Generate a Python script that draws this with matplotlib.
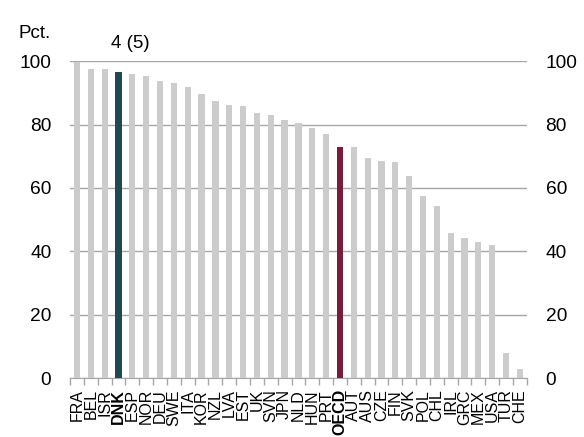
import matplotlib
matplotlib.use("Agg")
import matplotlib.pyplot as plt
from matplotlib.ticker import FixedLocator

plt.rcParams['font.family'] = ['Liberation Sans', 'DejaVu Sans']

countries = ["FRA", "BEL", "ISR", "DNK", "ESP", "NOR", "DEU", "SWE", "ITA", "KOR",
             "NZL", "LVA", "EST", "UK", "SVN", "JPN", "NLD", "HUN", "PRT", "OECD",
             "AUT", "AUS", "CZE", "FIN", "SVK", "POL", "CHL", "IRL", "GRC", "MEX",
             "USA", "TUR", "CHE"]
values = [99.6, 97.6, 97.6, 96.5, 95.9, 95.3, 93.8, 93.2, 91.9, 89.6,
          87.3, 86.1, 86.0, 83.8, 82.9, 81.4, 80.6, 78.8, 76.9, 72.9,
          72.9, 69.5, 68.5, 68.2, 63.9, 57.4, 54.2, 45.7, 44.1, 42.8,
          41.9, 7.9, 3.0]
highlight = {"DNK": "#1F4B50", "OECD": "#7A1B3B"}
yticks = [0, 20, 40, 60, 80, 100]
annotation = "4 (5)"

fig = plt.figure(figsize=(5.84, 4.37), dpi=100)
ax = fig.add_axes([0.12, 0.135, 0.782, 0.725])

x = list(range(len(countries)))
colors = [highlight.get(c, "#CCCCCC") for c in countries]
ax.bar(x, values, width=0.45, color=colors, zorder=3)

ax.set_xlim(-0.5, len(countries) - 0.5)
ax.set_ylim(0, 100)
ax.set_yticks(yticks)
ax.yaxis.grid(True, color="#A6A6A6", linewidth=1.0, zorder=0)
ax.tick_params(axis='y', length=0, labelsize=13.8, pad=13.5,
               labelleft=True, labelright=True)

ax.set_xticks(x)
ax.set_xticklabels(countries, rotation=90, fontsize=11.5)
for lbl in ax.get_xticklabels():
    if lbl.get_text() in highlight:
        lbl.set_fontweight('bold')
ax.tick_params(axis='x', which='major', length=0, pad=8)
ax.xaxis.set_minor_locator(FixedLocator([i - 0.5 for i in range(len(countries) + 1)]))
ax.tick_params(axis='x', which='minor', length=5, color="#A6A6A6", width=1)

for s in ["top", "left", "right"]:
    ax.spines[s].set_visible(False)
ax.spines["bottom"].set_color("#A6A6A6")

idx = countries.index("DNK")
ax.text(idx - 0.55, 103, annotation, fontsize=13.5, ha='left', va='bottom')
fig.text(18 / 584, 1 - 33 / 437, "Pct.", fontsize=13.5, ha='left', va='center')

fig.savefig("out.png", dpi=100)
